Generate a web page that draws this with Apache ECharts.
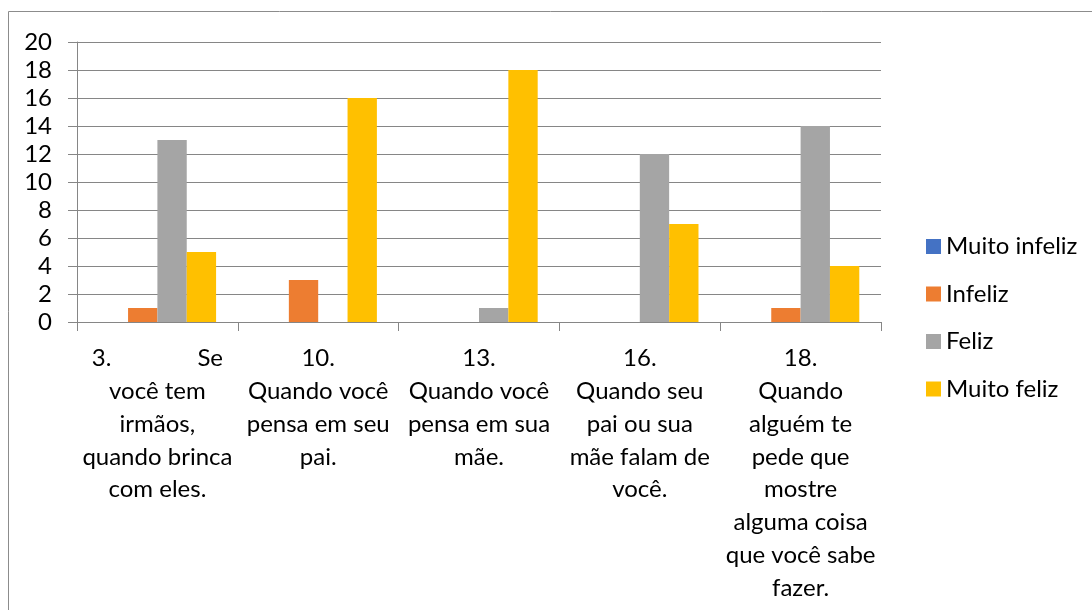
<!DOCTYPE html>
<html>
<head>
<meta charset="utf-8">
<script src="https://cdn.jsdelivr.net/npm/echarts@6/dist/echarts.min.js"></script>
<style>html,body{margin:0;padding:0;background:#fff;}#c{width:1092px;height:610px;}</style>
</head>
<body>
<div id="c"></div>
<script>
const categories = [
  "3.              Se\nvocê tem\nirmãos,\nquando brinca\ncom eles.",
  "10.\nQuando você\npensa em seu\npai.",
  "13.\nQuando você\npensa em sua\nmãe.",
  "16.\nQuando seu\npai ou sua\nmãe falam de\nvocê.",
  "18.\nQuando\nalguém te\npede que\nmostre\nalguma coisa\nque você sabe\nfazer."
];
const seriesNames = ["Muito infeliz", "Infeliz", "Feliz", "Muito feliz"];
const muitoInfeliz = [0, 0, 0, 0, 0];
const infeliz = [1, 3, 0, 0, 1];
const feliz = [13, 0, 1, 12, 14];
const muitoFeliz = [5, 16, 18, 7, 4];
const colors = ["#4472C4", "#ED7D31", "#A5A5A5", "#FFC000"];

const FONT = "Lato";
const chart = echarts.init(document.getElementById('c'));
const vals = [muitoInfeliz, infeliz, feliz, muitoFeliz];
chart.setOption({
  animation: false,
  textStyle: { fontFamily: FONT },
  graphic: [{
    type: 'rect', shape: { x: 8.5, y: 11.5, width: 1100, height: 620 },
    style: { fill: 'none', stroke: '#8c8c8c', lineWidth: 1 }, silent: true
  }],
  grid: { left: 77, right: 211, top: 42, bottom: 288, containLabel: false },
  legend: {
    orient: 'vertical', left: 921, top: 229, itemGap: 22.5,
    itemWidth: 15, itemHeight: 15, icon: 'rect',
    textStyle: { fontFamily: FONT, fontSize: 24, color: '#000', lineHeight: 25, padding: [0, 0, 0, 0] },
    data: seriesNames
  },
  xAxis: {
    type: 'category', data: categories,
    axisLine: { lineStyle: { color: '#868686', width: 1 } },
    axisTick: { show: true, length: 9, lineStyle: { color: '#868686' } },
    axisLabel: { interval: 0, margin: 20, fontFamily: FONT, fontSize: 24, lineHeight: 32.8, color: '#000', align: 'center', verticalAlign: 'top' }
  },
  yAxis: {
    type: 'value', min: 0, max: 20, interval: 2,
    axisLine: { show: true, lineStyle: { color: '#868686', width: 1 } },
    axisTick: { show: true, length: 9, lineStyle: { color: '#868686' } },
    splitLine: { lineStyle: { color: '#868686', width: 1 } },
    axisLabel: { margin: 25, fontFamily: FONT, fontSize: 24, color: '#000' }
  },
  series: seriesNames.map((n, i) => ({
    name: n, type: 'bar', data: vals[i],
    itemStyle: { color: colors[i] },
    barGap: '0%', barCategoryGap: '27%'
  }))
});
</script>
</body>
</html>
